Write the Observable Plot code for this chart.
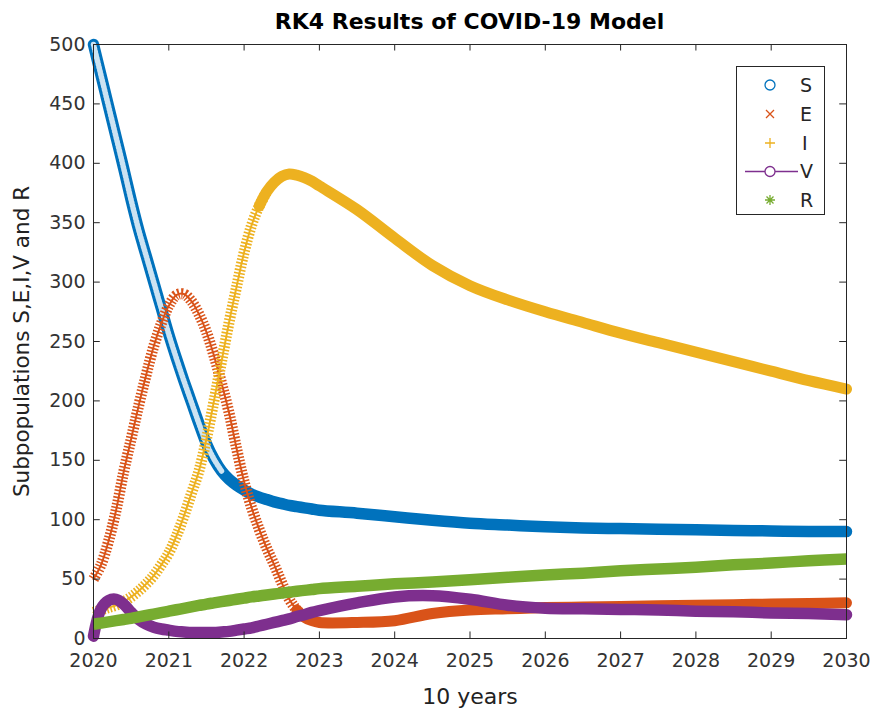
<!DOCTYPE html>
<html><head><meta charset="utf-8">
<script src="https://cdn.jsdelivr.net/npm/d3@7"></script>
<script src="https://cdn.jsdelivr.net/npm/@observablehq/plot@0.6"></script>
<style>
body{margin:0;background:#fff;font-family:"DejaVu Sans",sans-serif;}
#wrap{position:relative;width:874px;height:716px;overflow:hidden;}
#title{position:absolute;left:93px;width:753px;top:9px;text-align:center;font-weight:bold;font-size:22px;color:#000;line-height:26px;}
#legend{position:absolute;left:736px;top:66px;}
</style></head><body>
<div id="wrap"><div id="chart"></div><div id="title">RK4 Results of COVID-19 Model</div>
<svg id="legend" width="90" height="150" font-family="DejaVu Sans" font-size="19" fill="#262626">
<rect x="0.5" y="0.5" width="88" height="148" fill="white" stroke="#262626" stroke-width="1"/>
<circle cx="34" cy="19" r="5" fill="none" stroke="#0072BD" stroke-width="1.3"/>
<path d="M30,44L38,52M30,52L38,44" stroke="#D95319" stroke-width="1.3"/>
<path d="M29,77H39M34,72V82" stroke="#EDB120" stroke-width="1.3"/>
<path d="M9,105.5H62" stroke="#7E2F8E" stroke-width="1.3"/>
<circle cx="34" cy="105.5" r="5" fill="white" stroke="#7E2F8E" stroke-width="1.3"/>
<path d="M29,134H39M34,129V139M30.5,130.5L37.5,137.5M30.5,137.5L37.5,130.5" stroke="#77AC30" stroke-width="1.3"/>
<text x="64" y="19" dy="0.36em">S</text>
<text x="64" y="48" dy="0.36em">E</text>
<text x="66" y="77" dy="0.36em">I</text>
<text x="64" y="105.5" dy="0.36em">V</text>
<text x="64" y="134" dy="0.36em">R</text>
</svg>
</div>
<script>
const years = [2020,2020.1,2020.2,2020.3,2020.4,2020.5,2020.6,2020.7,2020.8,2020.9,
  2021,2021.1,2021.2,2021.3,2021.4,2021.5,2021.6,2021.7,2021.8,2021.9,
  2022,2022.1,2022.2,2022.3,2022.4,2022.5,2022.6,2022.7,2022.8,2022.9,
  2023,2023.5,2024,2024.5,2025,2025.5,2026,2026.5,2027,2027.5,2028,2028.5,2029,2029.5,2030];
const S = [500,474,448,422,396,369,344,322,300,278,
  256,236,217,199,181,164,151,141,134,129,
  125,121.5,119,117,115,113.5,112,111,110,109,
  108,105.5,102.5,99.5,97,95.5,94,93,92.5,92,91.5,91,90.5,90,90];
const E = [50,62,82,108,140,168,196,222,246,265,
  280,289,290,284,273,258,238,215,190,160,
  132,110,92,76,62,47,33,24,18,15,
  13.5,13.5,15,21,24,25,26,26.5,27,27.5,28,28.5,29,29.5,30];
const I = [22,24,26,28,31,35,40,46,53,62,
  72,86,103,122,141,168,200,233,266,296,
  325,348,364,376,384,389,391,390,388,385,
  381,361,337,314,297,285,275,266,257,249,241,233,225,217,210];
const V = [2,25,32,33,29,22,16,12,9.5,8,
  7,6,5.5,5,5,5,5,5.5,6,7,
  8,9,10.5,12,13.5,15,16.5,18.5,20,22,
  23.5,30,35,36,33,28,25.5,25,24.5,24,23,22.5,21.5,21,20];
const R = [12,13,14,15,16,17,18.2,19.4,20.6,21.8,
  23,24.2,25.4,26.6,27.8,29,30,31,32,33,
  34,35,35.8,36.6,37.4,38.2,39,39.8,40.5,41.2,
  42,44,46,47.5,49.5,51.5,53.5,55,57,58.5,60,62,63.5,65.5,67];
const seriesNames = ["S","E","I","V","R"];
const seriesColors = ["#0072BD","#D95319","#EDB120","#7E2F8E","#77AC30"];
const xTicks = [2020,2021,2022,2023,2024,2025,2026,2027,2028,2029,2030];
const yTicks = [0,50,100,150,200,250,300,350,400,450,500];
const xLabel = "10 years";
const yLabel = "Subpopulations S,E,I,V and R";

const values = {S, E, I, V, R};
const curve = "catmull-rom";
function rows(name){ return years.map((x,i)=>({x, y: values[name][i]})); }

function marksFor(name, color){
  const data = rows(name);
  const ch = {x:"x", y:"y", curve};
  if (name === "S") {
    const steep = data.filter(d => d.x <= 2021.7);
    return [
      Plot.line(data, {...ch, stroke: color, strokeWidth: 11.5, strokeLinecap: "round"}),
      Plot.line(steep, {...ch, stroke: "white", strokeWidth: 5.5, strokeOpacity: 0.8, strokeDasharray: "1.3,2"})
    ];
  }
  if (name === "E" || name === "I") {
    const cut = name === "E" ? 2022.7 : 2022.3;
    const steep = data.filter(d => d.x <= cut + 0.1);
    const flat = data.filter(d => d.x >= cut - 0.1);
    return [
      Plot.line(steep, {...ch, stroke: color, strokeWidth: 11, strokeDasharray: "1.6,1.8", strokeLinecap: "butt"}),
      Plot.line(steep, {...ch, stroke: color, strokeWidth: 2}),
      Plot.line(flat, {...ch, stroke: color, strokeWidth: 11})
    ];
  }
  return [Plot.line(data, {...ch, stroke: color, strokeWidth: 11.5, strokeLinecap: name === "V" ? "round" : "butt"})];
}

const axisColor = "#262626";
const chart = Plot.plot({
  width: 874, height: 716,
  marginLeft: 93, marginRight: 28, marginTop: 44, marginBottom: 78,
  x: {domain: [2020, 2030]},
  y: {domain: [0, 500]},
  style: {fontFamily: "DejaVu Sans", fontSize: "19px", color: axisColor, background: "white", overflow: "visible"},
  marks: [
    ...seriesNames.flatMap((n, i) => marksFor(n, seriesColors[i])),
    Plot.frame({stroke: axisColor, strokeWidth: 1}),
    Plot.ruleX(xTicks, {x: d => d, y1: 0, y2: 5.5, stroke: axisColor}),
    Plot.ruleX(xTicks, {x: d => d, y1: 500, y2: 494.5, stroke: axisColor}),
    Plot.ruleY(yTicks, {y: d => d, x1: 2020, x2: 2020.09, stroke: axisColor}),
    Plot.ruleY(yTicks, {y: d => d, x1: 2030, x2: 2029.91, stroke: axisColor}),
    Plot.axisX({ticks: xTicks, tickSize: 0, tickPadding: 15, tickFormat: d => String(d), label: null, fill: "#333"}),
    Plot.axisY({ticks: yTicks, tickSize: 0, tickPadding: 8, label: null, fill: "#333"}),
    Plot.text([yLabel], {frameAnchor: "left", textAnchor: "middle", rotate: -90, dx: -71, fontSize: 21.5, fill: "#222"}),
    Plot.text([xLabel], {frameAnchor: "bottom", lineAnchor: "middle", dy: 58, fontSize: 22, fill: "#222"})
  ]
});
document.getElementById("chart").appendChild(chart);
</script>
</body></html>
